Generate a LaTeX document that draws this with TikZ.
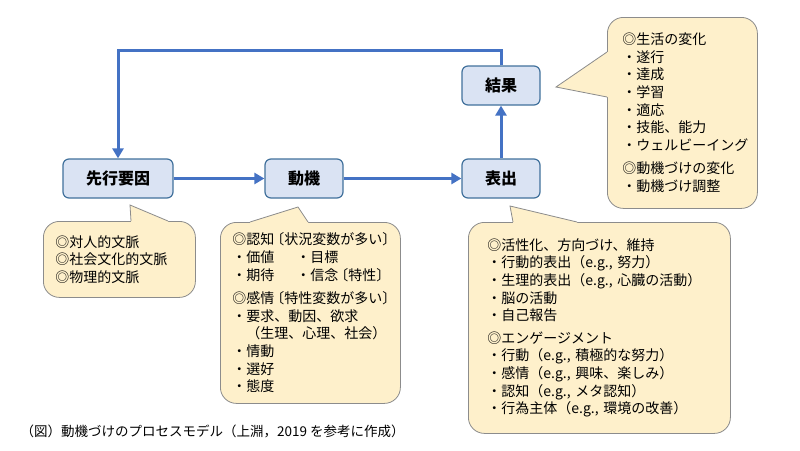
\documentclass[tikz,border=0pt]{standalone}
\usepackage{fontspec}
\setmainfont{Noto Sans CJK JP}
\usetikzlibrary{arrows.meta}

\definecolor{boxfill}{HTML}{DAE3F3}
\definecolor{boxline}{HTML}{41719C}
\definecolor{flowblue}{HTML}{4472C4}
\definecolor{notefill}{HTML}{FEF0CB}
\definecolor{noteline}{HTML}{8C8C8C}

\tikzset{
    stage/.style={draw=boxline, fill=boxfill, line width=1.2pt, rounded corners=6pt,
        minimum height=39pt, font=\fontsize{16}{16}\selectfont\bfseries},
    flow/.style={draw=flowblue, line width=3pt, -{Triangle[length=10pt,width=11pt]}},
    note/.style={draw=noteline, fill=notefill, line width=0.8pt, rounded corners=16pt,
        anchor=north west, align=left, inner ysep=0pt, font=\fontsize{14}{17.6}\selectfont},
    wedge/.style={draw=noteline, line width=0.8pt},
}

\begin{document}
\begin{tikzpicture}[x=1pt, y=-1pt]
    \fill[white] (0,0) rectangle (800,450);
    \useasboundingbox (0,0) rectangle (800,450);

    % 段階
    \node[stage, minimum width=110pt] (ante) at (118,178.5) {先行要因};
    \node[stage, minimum width=78pt] (mot) at (304,178.5) {動機};
    \node[stage, minimum width=78pt] (expr) at (501,178.5) {表出};
    \node[stage, minimum width=78pt] (res) at (501,85.5) {結果};

    % 矢印
    \draw[flow] (ante.east) -- (mot.west);
    \draw[flow] (mot.east) -- (expr.west);
    \draw[flow] (expr.north) -- (res.south);
    \draw[flow] (res.north) -- ++(0,-15) -| (ante.north);

    % 吹き出し：先行要因
    \node[note, text width=128pt, minimum height=76pt, inner xsep=12pt] (ctxnote) at (43,221)
        {◎対人的文脈\\◎社会文化的文脈\\◎物理的文脈};
    \fill[notefill] (131,221) -- (130,205) -- (168,221) -- (168,223) -- (131,223) -- cycle;
    \draw[wedge] (131,221) -- (130,205) -- (168,221);

    % 吹き出し：動機
    \node[note, text width=156pt, minimum height=181pt, inner xsep=12pt] (motnote) at (220,222)
        {◎認知\kern-4pt〔状況変数が多い〕\\
         \makebox[64pt][l]{・価値}・目標\\
         \makebox[64pt][l]{・期待}・信念\kern-4pt〔特性〕\\[6pt]
         ◎感情\kern-4pt〔特性変数が多い〕\\
         ・要求、動因、欲求\\
         \hspace*{1em}（生理、心理、社会）\\
         ・情動\\
         ・選好\\
         ・態度};
    \fill[notefill] (250,222) -- (298,207) -- (308,222) -- (308,224) -- (250,224) -- cycle;
    \draw[wedge] (250,222) -- (298,207) -- (308,222);

    % 吹き出し：表出
    \node[note, text width=224pt, minimum height=211pt, inner xsep=19pt] (exprnote) at (468,222)
        {◎活性化、方向づけ、維持\\
         ・行動的表出（e.g., 努力）\\
         ・生理的表出（e.g., 心臓の活動）\\
         ・脳の活動\\
         ・自己報告\\[5pt]
         ◎エンゲージメント\\
         ・行動（e.g., 積極的な努力）\\
         ・感情（e.g., 興味、楽しみ）\\
         ・認知（e.g., メタ認知）\\
         ・行為主体（e.g., 環境の改善）};
    \fill[notefill] (513,222) -- (510,206) -- (577,222) -- (577,224) -- (513,224) -- cycle;
    \draw[wedge] (513,222) -- (510,206) -- (577,222);

    % 吹き出し：結果
    \node[note, text width=120pt, minimum height=191pt, inner xsep=15pt] (resnote) at (607,17)
        {◎生活の変化\\
         ・遂行\\
         ・達成\\
         ・学習\\
         ・適応\\
         ・技能、能力\\
         ・ウェルビーイング\\[6pt]
         ◎動機づけの変化\\
         ・動機づけ調整};
    \fill[notefill] (607,52) -- (556,87) -- (607,97) -- (609,97) -- (609,52) -- cycle;
    \draw[wedge] (607,52) -- (556,87) -- (607,97);

    % 図の説明
    \node[anchor=west, font=\fontsize{13.5}{14}\selectfont] (caption) at (17,431)
        {（図）動機づけのプロセスモデル（上淵，2019 を参考に作成）};
\end{tikzpicture}
\end{document}
